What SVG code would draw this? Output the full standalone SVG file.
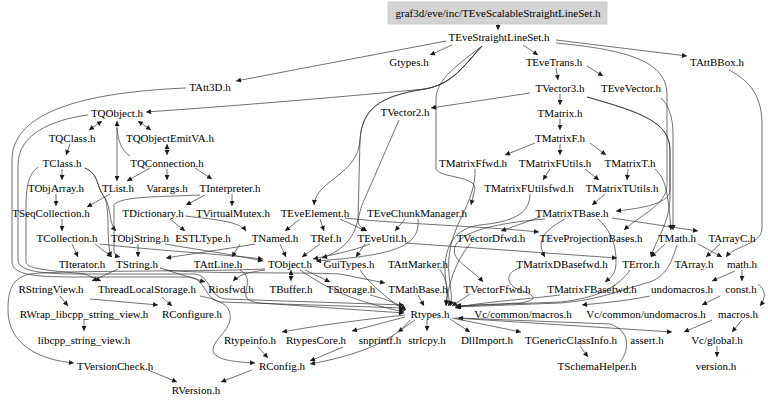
<svg xmlns="http://www.w3.org/2000/svg" width="768" height="404" viewBox="0 0 768 404">
<style>
text{font-family:"Liberation Serif","Times New Roman",serif;font-size:11px;fill:#000;text-anchor:middle}
.e{fill:none;stroke:#333;stroke-width:.7;marker-end:url(#a)}
.b{fill:none;stroke:#333;stroke-width:.7;marker-end:url(#a);marker-start:url(#s)}
.n{fill:none;stroke:#333;stroke-width:.7}
</style>
<defs>
<marker id="a" viewBox="0 0 10 10" refX="10" refY="5" markerWidth="7" markerHeight="5" markerUnits="userSpaceOnUse" orient="auto"><path d="M0,0L10,5L0,10z" fill="#1a1a1a"/></marker>
<marker id="s" viewBox="0 0 10 10" refX="0" refY="5" markerWidth="7" markerHeight="5" markerUnits="userSpaceOnUse" orient="auto"><path d="M10,0L0,5L10,10z" fill="#1a1a1a"/></marker>
</defs>
<rect width="768" height="404" fill="#fff"/>
<g id="edges">
<path class="e" d="M498,24L498,30"/>
<path class="e" d="M452,45L430,55"/>
<path class="e" d="M523,45L538,55"/>
<path class="e" d="M556,40L687,56"/>
<path class="e" d="M446,41L236,81"/>
<path class="e" d="M482,46C462,68 452,84 425,89C330,98 220,107 146,112"/>
<path class="e" d="M482,46C462,68 452,84 425,89C378,96 362,110 360,140C358,175 316,180 314,205"/>
<path class="e" d="M482,46C462,68 452,84 425,89C378,96 362,110 360,140L358,220C358,226 362,228 367,231"/>
<path class="e" d="M482,46C450,70 436,82 436,100L436,168C436,178 474,175 475,188L471,205"/>
<path class="e" d="M556,43C630,50 667,62 667,95L667,185C667,205 640,215 624,230"/>
<path class="e" d="M556,68L558,80"/>
<path class="e" d="M587,66L603,76"/>
<path class="e" d="M530,93L431,108"/>
<path class="e" d="M560,94L560,105"/>
<path class="e" d="M587,97C640,112 670,122 670,150L670,190C670,203 645,208 616,211"/>
<path class="e" d="M587,97C640,112 670,122 670,150L670,195C670,225 655,240 651,257"/>
<path class="e" d="M661,98C668,105 673,115 673,135L673,230"/>
<path class="e" d="M729,70C752,82 762,98 762,125L762,228C762,245 735,245 726,257"/>
<path class="e" d="M399,120L362,205C356,222 358,245 322,258"/>
<path class="b" d="M102,121L89,130"/>
<path class="b" d="M138,121L151,130"/>
<path class="b" d="M117,181L117,121"/>
<path class="n" d="M130,156C121,150 118,140 117,128"/>
<path class="e" d="M186,88C90,92 12,110 12,160L12,262C12,276 40,277 80,277L190,277C205,278 205,300 220,302L404,308"/>
<path class="e" d="M88,115C50,120 18,135 18,165L18,260C18,272 45,274 80,274L195,274C210,275 210,298 225,299L404,305"/>
<path class="e" d="M38,167C27,175 26,190 26,210L26,262C26,270 60,271 85,274L101,281"/>
<path class="e" d="M265,269C200,272 60,270 30,274C12,278 8,290 8,310C8,345 40,360 74,363"/>
<path class="e" d="M70,144L66,155"/>
<path class="b" d="M167,144L167,155"/>
<path class="e" d="M150,168L127,181"/>
<path class="e" d="M167,169L167,180"/>
<path class="e" d="M195,168L212,179"/>
<path class="e" d="M62,169L62,180"/>
<path class="e" d="M85,168C100,175 95,185 105,198C112,210 108,222 116,231"/>
<path class="e" d="M85,168C100,175 95,185 105,198C110,210 106,240 111,257"/>
<path class="e" d="M56,194L56,206"/>
<path class="e" d="M110,194L87,207"/>
<path class="e" d="M205,195L186,205"/>
<path class="e" d="M232,194L232,206"/>
<path class="e" d="M200,195C160,197 120,196 114,205L114,250C114,254 116,256 120,257"/>
<path class="e" d="M62,219L62,231"/>
<path class="e" d="M170,219L185,231"/>
<path class="e" d="M185,216C220,220 240,222 246,231"/>
<path class="e" d="M72,244L78,257"/>
<path class="e" d="M95,244L112,257"/>
<path class="e" d="M100,244C150,250 220,254 263,259"/>
<path class="e" d="M165,244C200,250 230,254 263,261"/>
<path class="e" d="M138,244L138,257"/>
<path class="e" d="M255,244C220,250 190,254 166,258"/>
<path class="e" d="M240,244L232,257"/>
<path class="e" d="M280,244L286,257"/>
<path class="e" d="M320,244L302,257"/>
<path class="e" d="M370,244C350,252 330,255 313,259"/>
<path class="e" d="M365,244L356,257"/>
<path class="e" d="M405,243L617,258"/>
<path class="e" d="M300,219L285,231"/>
<path class="e" d="M320,219L324,231"/>
<path class="e" d="M340,219L366,231"/>
<path class="e" d="M405,219L395,231"/>
<path class="e" d="M418,219C420,245 400,255 316,261"/>
<path class="e" d="M345,218C400,224 480,226 539,232"/>
<path class="e" d="M612,218L698,231"/>
<path class="e" d="M560,119L560,130"/>
<path class="e" d="M535,143L505,155"/>
<path class="e" d="M560,144L560,155"/>
<path class="e" d="M590,143L606,155"/>
<path class="e" d="M550,169L543,180"/>
<path class="e" d="M585,169L599,180"/>
<path class="e" d="M628,169L627,180"/>
<path class="e" d="M655,169C665,178 668,190 671,230"/>
<path class="e" d="M605,194L592,205"/>
<path class="e" d="M475,169C476,200 455,220 450,250C445,275 455,295 450,306"/>
<path class="e" d="M530,194C530,215 510,222 480,225C455,228 445,245 445,270C445,290 452,300 448,306"/>
<path class="e" d="M565,219C545,230 535,240 545,257"/>
<path class="e" d="M540,217L501,231"/>
<path class="e" d="M598,219C612,232 616,245 616,262C616,275 610,278 605,282"/>
<path class="e" d="M545,219C470,225 450,240 455,255C460,265 475,272 483,282"/>
<path class="e" d="M470,244C455,262 448,285 446,306"/>
<path class="e" d="M470,294L452,306"/>
<path class="e" d="M520,268C505,272 505,285 520,290C535,295 540,300 520,303L455,306"/>
<path class="e" d="M560,295C520,300 480,302 455,308"/>
<path class="e" d="M665,244L651,257"/>
<path class="e" d="M677,245C672,260 668,275 650,282C620,290 600,300 560,303L456,307"/>
<path class="e" d="M630,270C620,285 600,298 560,302L456,306"/>
<path class="e" d="M720,244L706,257"/>
<path class="e" d="M698,244L722,257"/>
<path class="e" d="M742,270L742,281"/>
<path class="e" d="M735,271L712,281"/>
<path class="e" d="M758,284C766,290 766,298 760,306"/>
<path class="e" d="M720,296L702,305"/>
<path class="e" d="M650,296C620,302 600,303 582,305"/>
<path class="e" d="M742,320L732,332"/>
<path class="e" d="M712,320L684,332"/>
<path class="e" d="M717,346L717,357"/>
<path class="e" d="M418,295L424,306"/>
<path class="e" d="M440,270C448,280 448,292 446,305"/>
<path class="e" d="M370,295C390,300 400,305 406,310"/>
<path class="e" d="M360,270C370,285 390,300 405,311"/>
<path class="e" d="M300,270C330,290 350,300 404,312"/>
<path class="e" d="M240,270C260,282 230,300 260,303L404,313"/>
<path class="e" d="M118,269L92,281"/>
<path class="e" d="M160,268L205,282"/>
<path class="e" d="M165,270C200,274 300,272 340,274L385,283"/>
<path class="e" d="M265,270C250,272 240,274 233,281"/>
<path class="b" d="M291,270L291,281"/>
<path class="e" d="M305,270L330,282"/>
<path class="e" d="M60,296L68,306"/>
<path class="e" d="M90,299L158,305"/>
<path class="e" d="M162,297L172,306"/>
<path class="e" d="M84,320L84,331"/>
<path class="e" d="M450,319L470,332"/>
<path class="e" d="M452,318L521,332"/>
<path class="e" d="M620,362C630,350 630,330 610,324L458,318"/>
<path class="e" d="M455,318L672,332"/>
<path class="e" d="M427,320L427,331"/>
<path class="e" d="M415,320L398,332"/>
<path class="e" d="M405,317L352,331"/>
<path class="e" d="M405,315C360,320 320,325 282,332"/>
<path class="e" d="M343,347L310,361"/>
<path class="e" d="M410,320C395,340 360,355 310,364"/>
<path class="e" d="M258,347L268,358"/>
<path class="e" d="M200,296C220,300 232,305 230,320C228,332 213,340 213,350C213,360 235,362 255,363"/>
<path class="e" d="M580,346L588,357"/>
<path class="e" d="M148,370L177,382"/>
<path class="e" d="M252,370L221,382"/>
</g>
<g id="n0"><rect x="388" y="2" width="219" height="22" fill="#d3d3d3" stroke="#c8c8c8" stroke-width=".8"/><text x="498" y="17">graf3d/eve/inc/TEveScalableStraightLineSet.h</text></g>
<g id="n1"><text x="499" y="41">TEveStraightLineSet.h</text></g>
<g id="n2"><text x="409" y="66">Gtypes.h</text></g>
<g id="n3"><text x="554" y="66">TEveTrans.h</text></g>
<g id="n4"><text x="717" y="66">TAttBBox.h</text></g>
<g id="n5"><text x="210" y="91">TAtt3D.h</text></g>
<g id="n6"><text x="560" y="92">TVector3.h</text></g>
<g id="n7"><text x="631" y="92">TEveVector.h</text></g>
<g id="n8"><text x="117" y="117">TQObject.h</text></g>
<g id="n9"><text x="405" y="116">TVector2.h</text></g>
<g id="n10"><text x="560" y="117">TMatrix.h</text></g>
<g id="n11"><text x="72" y="142">TQClass.h</text></g>
<g id="n12"><text x="170" y="142">TQObjectEmitVA.h</text></g>
<g id="n13"><text x="560" y="142">TMatrixF.h</text></g>
<g id="n14"><text x="62" y="167">TClass.h</text></g>
<g id="n15"><text x="167" y="167">TQConnection.h</text></g>
<g id="n16"><text x="473" y="167">TMatrixFfwd.h</text></g>
<g id="n17"><text x="555" y="167">TMatrixFUtils.h</text></g>
<g id="n18"><text x="630" y="167">TMatrixT.h</text></g>
<g id="n19"><text x="56" y="192">TObjArray.h</text></g>
<g id="n20"><text x="118" y="192">TList.h</text></g>
<g id="n21"><text x="167" y="192">Varargs.h</text></g>
<g id="n22"><text x="230" y="192">TInterpreter.h</text></g>
<g id="n23"><text x="529" y="192">TMatrixFUtilsfwd.h</text></g>
<g id="n24"><text x="622" y="192">TMatrixTUtils.h</text></g>
<g id="n25"><text x="51" y="217">TSeqCollection.h</text></g>
<g id="n26"><text x="153" y="217">TDictionary.h</text></g>
<g id="n27"><text x="233" y="217">TVirtualMutex.h</text></g>
<g id="n28"><text x="315" y="217">TEveElement.h</text></g>
<g id="n29"><text x="417" y="217">TEveChunkManager.h</text></g>
<g id="n30"><text x="572" y="217">TMatrixTBase.h</text></g>
<g id="n31"><text x="67" y="242">TCollection.h</text></g>
<g id="n32"><text x="140" y="242">TObjString.h</text></g>
<g id="n33"><text x="203" y="242">ESTLType.h</text></g>
<g id="n34"><text x="275" y="242">TNamed.h</text></g>
<g id="n35"><text x="326" y="242">TRef.h</text></g>
<g id="n36"><text x="382" y="242">TEveUtil.h</text></g>
<g id="n37"><text x="491" y="242">TVectorDfwd.h</text></g>
<g id="n38"><text x="591" y="242">TEveProjectionBases.h</text></g>
<g id="n39"><text x="677" y="242">TMath.h</text></g>
<g id="n40"><text x="732" y="242">TArrayC.h</text></g>
<g id="n41"><text x="82" y="268">TIterator.h</text></g>
<g id="n42"><text x="137" y="268">TString.h</text></g>
<g id="n43"><text x="218" y="268">TAttLine.h</text></g>
<g id="n44"><text x="290" y="268">TObject.h</text></g>
<g id="n45"><text x="349" y="268">GuiTypes.h</text></g>
<g id="n46"><text x="418" y="268">TAttMarker.h</text></g>
<g id="n47"><text x="562" y="268">TMatrixDBasefwd.h</text></g>
<g id="n48"><text x="641" y="268">TError.h</text></g>
<g id="n49"><text x="694" y="268">TArray.h</text></g>
<g id="n50"><text x="742" y="268">math.h</text></g>
<g id="n51"><text x="51" y="293">RStringView.h</text></g>
<g id="n52"><text x="147" y="293">ThreadLocalStorage.h</text></g>
<g id="n53"><text x="231" y="293">Riosfwd.h</text></g>
<g id="n54"><text x="291" y="293">TBuffer.h</text></g>
<g id="n55"><text x="351" y="293">TStorage.h</text></g>
<g id="n56"><text x="418" y="293">TMathBase.h</text></g>
<g id="n57"><text x="497" y="293">TVectorFfwd.h</text></g>
<g id="n58"><text x="592" y="293">TMatrixFBasefwd.h</text></g>
<g id="n59"><text x="682" y="293">undomacros.h</text></g>
<g id="n60"><text x="741" y="293">const.h</text></g>
<g id="n61"><text x="84" y="318">RWrap_libcpp_string_view.h</text></g>
<g id="n62"><text x="192" y="318">RConfigure.h</text></g>
<g id="n63"><text x="430" y="318">Rtypes.h</text></g>
<g id="n64"><text x="523" y="318">Vc/common/macros.h</text></g>
<g id="n65"><text x="646" y="318">Vc/common/undomacros.h</text></g>
<g id="n66"><text x="738" y="318">macros.h</text></g>
<g id="n67"><text x="84" y="344">libcpp_string_view.h</text></g>
<g id="n68"><text x="250" y="344">Rtypeinfo.h</text></g>
<g id="n69"><text x="316" y="344">RtypesCore.h</text></g>
<g id="n70"><text x="380" y="344">snprintf.h</text></g>
<g id="n71"><text x="427" y="344">strlcpy.h</text></g>
<g id="n72"><text x="487" y="344">DllImport.h</text></g>
<g id="n73"><text x="571" y="344">TGenericClassInfo.h</text></g>
<g id="n74"><text x="647" y="344">assert.h</text></g>
<g id="n75"><text x="717" y="344">Vc/global.h</text></g>
<g id="n76"><text x="115" y="370">TVersionCheck.h</text></g>
<g id="n77"><text x="282" y="370">RConfig.h</text></g>
<g id="n78"><text x="597" y="370">TSchemaHelper.h</text></g>
<g id="n79"><text x="716" y="370">version.h</text></g>
<g id="n80"><text x="196" y="394">RVersion.h</text></g>
</svg>
